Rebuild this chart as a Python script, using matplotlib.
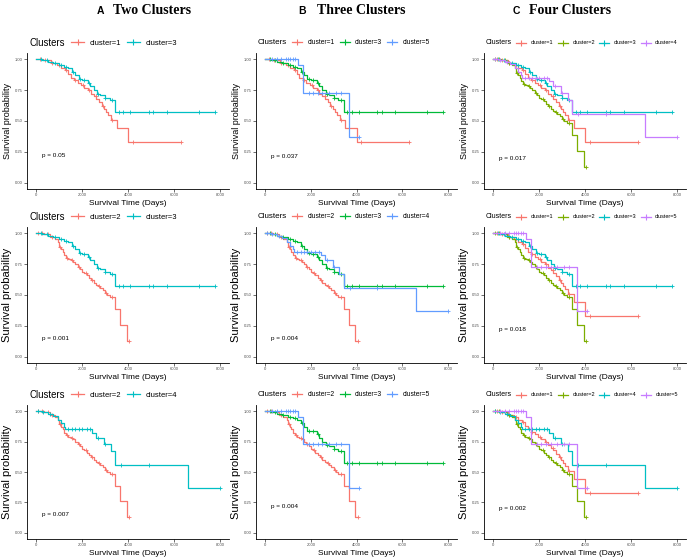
import numpy as np
import matplotlib
matplotlib.use("Agg")
import matplotlib.pyplot as plt
from matplotlib.lines import Line2D

plt.rcParams['font.family'] = ['Liberation Sans', 'DejaVu Sans']

# Kaplan-Meier step data per cluster (event times in days, survival after each event)
c1_times = [300, 630, 900, 1100, 1250, 1380, 1500, 1650, 1800, 1950, 2100, 2250, 2380,
            2500, 2620, 2750, 2850, 2960, 3050, 3150, 3280, 3500, 4000]
c1_surv = [0.99, 0.97, 0.95, 0.93, 0.91, 0.88, 0.85, 0.83, 0.81, 0.79, 0.77, 0.75, 0.72,
           0.70, 0.68, 0.65, 0.62, 0.60, 0.57, 0.55, 0.51, 0.44, 0.33]
c1_end = 6300
c1_cens = [150, 400, 700, 1000, 1300, 1700, 2050, 2300, 2600, 2900, 3300, 4200, 6300]

c2_times = [350, 600, 800, 950, 1000, 1080, 1150, 1220, 1300, 1400, 1500, 1600, 1700, 1800,
            1900, 2000, 2100, 2200, 2300, 2400, 2500, 2600, 2700, 2800, 2900, 3000, 3100,
            3200, 3450, 3650, 3950]
c2_surv = [0.99, 0.97, 0.95, 0.93, 0.89, 0.87, 0.85, 0.82, 0.80, 0.79, 0.78, 0.77, 0.75, 0.73,
           0.71, 0.69, 0.68, 0.66, 0.64, 0.62, 0.60, 0.58, 0.57, 0.56, 0.54, 0.52, 0.50,
           0.48, 0.385, 0.26, 0.13]
c2_end = 4050
c2_cens = [100, 250, 500, 700, 1050, 1350, 1550, 1850, 2150, 2450, 2750, 3050, 3300, 4050]

c3_times = [250, 500, 750, 1000, 1200, 1400, 1550, 1700, 1850, 2000, 2250, 2350, 2500,
            2650, 2800, 3000, 3200, 3450]
c3_surv = [0.995, 0.98, 0.97, 0.955, 0.94, 0.93, 0.90, 0.87, 0.84, 0.835, 0.81, 0.78, 0.75,
           0.72, 0.71, 0.69, 0.67, 0.57]
c3_end = 7800
c3_cens = [200, 450, 800, 1100, 1300, 1600, 1900, 2100, 2300, 2700, 3000, 3300, 3600, 3800,
           4100, 4900, 5100, 5700, 7100, 7800]

c4_times = [250, 500, 750, 950, 1100, 1200, 1250, 2450, 2600, 2950, 3250, 3450, 6600]
c4_surv = [0.99, 0.98, 0.96, 0.93, 0.90, 0.87, 0.85, 0.82, 0.78, 0.73, 0.67, 0.56, 0.37]
c4_end = 8000
c4_cens = [100, 300, 600, 1400, 1550, 1700, 1850, 2000, 2200, 2350, 2700, 3000, 3700, 4900, 8000]

c5_times = [1450, 1650, 3650]
c5_surv = [0.95, 0.73, 0.37]
c5_end = 4100
c5_cens = [300, 500, 700, 900, 1000, 1100, 1200, 1300, 1900, 2100, 2300, 2500, 2800, 3100,
           3300, 4100]

clusters = {
    1: (c1_times, c1_surv, c1_end, c1_cens),
    2: (c2_times, c2_surv, c2_end, c2_cens),
    3: (c3_times, c3_surv, c3_end, c3_cens),
    4: (c4_times, c4_surv, c4_end, c4_cens),
    5: (c5_times, c5_surv, c5_end, c5_cens),
}

col_titles = ["Two Clusters", "Three Clusters", "Four Clusters"]
col_letters = ["A", "B", "C"]
panel_groups = [
    [[1, 3], [1, 3, 5], [1, 2, 3, 4]],
    [[2, 3], [2, 3, 4], [1, 2, 3, 5]],
    [[2, 4], [2, 3, 5], [1, 2, 4, 5]],
]
pvals = [
    ["0.05", "0.037", "0.017"],
    ["0.001", "0.004", "0.018"],
    ["0.007", "0.004", "0.002"],
]
yticks = [0.0, 0.25, 0.5, 0.75, 1.0]
ytick_labels = ["0.00", "0.25", "0.50", "0.75", "1.00"]
xticks = [0, 2000, 4000, 6000, 8000]

# ggplot hue palettes
palettes = {
    2: ['#F8766D', '#00BFC4'],
    3: ['#F8766D', '#00BA38', '#619CFF'],
    4: ['#F8766D', '#7CAE00', '#00BFC4', '#C77CFF'],
}

W, H = 700, 560
fig = plt.figure(figsize=(7, 5.6), dpi=100)

col_x = [(27, 229), (256, 457), (484, 686)]
row_y = [(53, 189), (227, 363), (405, 539)]
p_y = [[0.22, 0.21, 0.20], [0.15, 0.15, 0.22], [0.15, 0.22, 0.20]]
leg_title_fs = [6.9, 5.8, 5.0]
leg_fs = [5.5, 4.75, 4.0]
leg_x = [0.22, 0.18, 0.16]
leg_hl = [1.6, 1.5, 1.8]
ylab_fs = [6.5, 8, 8]

for r in range(3):
    for c in range(3):
        x0, x1 = col_x[c]
        y0, y1 = row_y[r]
        ax = fig.add_axes([x0 / W, 1 - y1 / H, (x1 - x0) / W, (y1 - y0) / H])
        groups = panel_groups[r][c]
        cols = palettes[len(groups)]
        handles = []
        for g, col in zip(groups, cols):
            t, s, end, cens = clusters[g]
            xs = [0] + list(t) + [end]
            ys = [1.0] + list(s) + [s[-1]]
            ax.step(xs, ys, where='post', color=col, lw=0.9)
            ct = np.array(cens)
            idx = np.searchsorted(np.array(xs), ct, side='right') - 1
            ax.plot(ct, np.array(ys)[idx], ls='none', marker='+', ms=3, mew=0.6, color=col)
            handles.append(Line2D([], [], color=col, lw=0.9, marker='+', ms=4, mew=0.8,
                                  label=f"cluster={g}"))
        ax.set_xlim(-400, 8400)
        ax.set_ylim(-0.05, 1.05)
        ax.set_xticks(xticks)
        ax.set_xticklabels([str(v) for v in xticks])
        ax.set_yticks(yticks)
        ax.set_yticklabels(ytick_labels)
        ax.tick_params(labelsize=3, length=2, width=0.5, pad=1, colors='#333333',
                       labelcolor='#4d4d4d')
        for sp in ['top', 'right']:
            ax.spines[sp].set_visible(False)
        for sp in ['left', 'bottom']:
            ax.spines[sp].set_linewidth(0.6)
        ax.set_xlabel("Survival Time (Days)", fontsize=6, labelpad=2)
        ax.set_ylabel("Survival probability", fontsize=ylab_fs[r], labelpad=2)
        ax.text(250, p_y[r][c], f"p = {pvals[r][c]}", fontsize=4.6, va='center')

        hpx = y1 - y0
        ax.text(0.01, 1 + 10 / hpx, "Clusters", transform=ax.transAxes,
                fontsize=leg_title_fs[c], va='center', ha='left')
        ax.legend(handles=handles, loc='center left',
                  bbox_to_anchor=(leg_x[c], 1 + 10 / hpx), ncol=len(handles),
                  frameon=False, fontsize=leg_fs[c], handlelength=leg_hl[c],
                  handletextpad=0.8, columnspacing=0.8, borderpad=0, borderaxespad=0)

title_x = [(97, 113), (298, 317), (513, 529)]
for c in range(3):
    lx, tx = title_x[c]
    fig.text(lx / W, 1 - 14 / H, col_letters[c], fontsize=7.5, fontweight='bold',
             va='baseline', ha='left')
    fig.text(tx / W, 1 - 14 / H, col_titles[c], fontsize=10, fontweight='bold',
             family=['Liberation Serif', 'DejaVu Serif'], va='baseline', ha='left')

fig.savefig("out.png", dpi=100, facecolor='white')
